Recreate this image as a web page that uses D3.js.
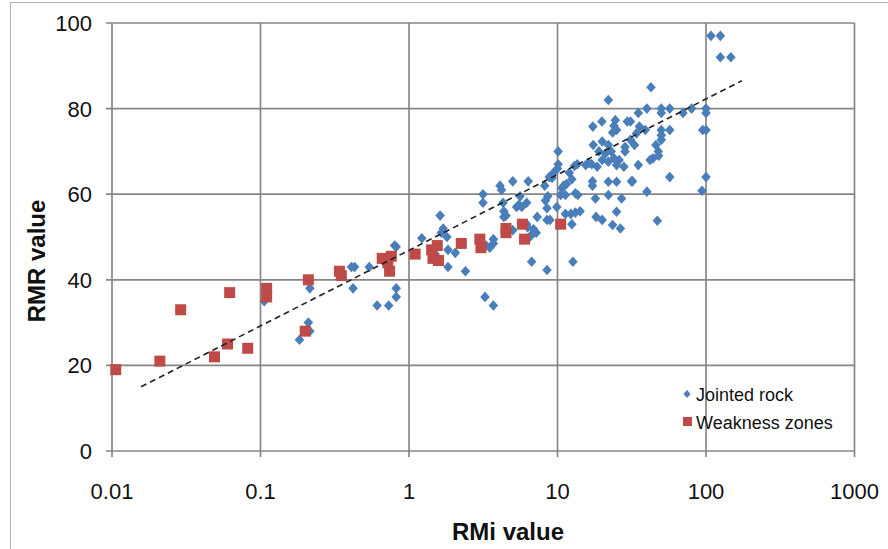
<!DOCTYPE html>
<html>
<head>
<meta charset="utf-8">
<script src="https://d3js.org/d3.v7.min.js"></script>
<style>
  body { margin: 0; background: #fff; }
  svg { display: block; font-family: "Liberation Sans", Arial, sans-serif; }
</style>
</head>
<body>
<svg width="888" height="549"></svg>
<script>
// Jointed rock (RMi, RMR)
var jointedRMi = [0.106, 0.215, 0.21, 0.215, 0.183,
  0.41, 0.43, 0.42, 0.54, 0.61, 0.73, 0.82, 0.82, 0.82, 0.8,
  1.22, 1.62, 1.65, 1.8, 1.83, 2.05, 1.83, 2.4, 1.5, 1.7,
  3.15, 3.15, 3.25, 3.7, 3.5, 3.7, 3.7, 3.3, 4.1, 4.2, 4.3, 4.35, 4.35, 5.0, 5.0, 5.3, 5.6, 5.75, 6.2, 6.35,
  6.2, 6.5, 6.7, 6.9, 7.2, 6.3, 6.7, 7.3, 8.5, 8.9, 8.3, 8.5, 8.6, 9.2, 9.4, 8.5, 8.2, 8.8, 4.5, 5.5,
  10.1, 10.1, 10, 10.5, 11.3, 10.7, 11.5, 12, 12.5, 13, 13.6, 11.3, 12.3, 13.2, 14.2, 12.5, 12.7, 13.7, 13.2, 15.5, 9.9, 11,
  17, 16.3, 17.4, 17.3, 19.9, 20, 22, 23, 24, 22, 26, 28, 25, 21, 18.5, 22, 24.5, 24, 23.5, 25, 29.5, 28.5, 28.5,
  17.2, 17.2, 22, 25, 22, 18, 27, 18.2, 20, 23.5, 25, 26.5, 31.5, 31, 33, 35.6, 20, 19,
  35, 31, 40, 42.6, 50, 50, 57, 70, 80, 100, 100, 95, 100, 34, 39, 50, 50, 57, 50, 47.7, 44, 42, 35, 32, 40, 57,
  100, 94, 47, 108, 125, 125, 147, 46, 48];
var jointedRMR = [35, 38, 30, 28, 26,
  43, 43, 38, 43, 34, 34, 38, 36, 47.7, 48,
  49.7, 55, 51, 50, 47, 46.3, 43, 42, 46, 52,
  60, 58, 36, 34, 47.5, 49.5, 48.5, 48, 62, 61, 58, 56, 54.7, 63, 51.6, 57, 59.5, 57, 58, 63,
  53, 50, 50.5, 51.8, 51, 52.3, 44.2, 54.7, 54, 54, 58.5, 56.7, 59.5, 63.8, 65, 42.3, 62, 64, 55, 57.5,
  70, 67, 66, 59.8, 59.8, 61.4, 62.4, 65, 63.5, 66.6, 67, 55.4, 55.4, 55.7, 56, 53, 44.2, 59.8, 60.2, 66.8, 57, 62,
  67, 67.3, 71.5, 75.8, 77, 72.3, 71.5, 70, 68.4, 67.6, 68, 66.4, 66.8, 69.5, 66.4, 82, 77.3, 76, 74.4, 75, 77, 70, 71,
  63, 62, 62.9, 62.9, 59.8, 59, 59, 54.7, 54, 52.8, 55.9, 52, 63, 72.7, 71.5, 75.8, 68, 70,
  79, 77, 80, 85, 80, 79, 80, 79, 80, 80, 79, 75, 75, 74.2, 75, 75, 73.8, 75, 72.7, 70, 68.4, 68, 66.8, 63, 60.6, 64,
  64, 60.8, 53.8, 97, 97, 92, 92, 71.5, 69];

// Weakness zones (RMi, RMR)
var weakRMi = [0.0106, 0.021, 0.029, 0.049, 0.06, 0.062, 0.082, 0.11, 0.11, 0.2, 0.21, 0.34, 0.35,
  0.66, 0.72, 0.76, 0.74, 1.1, 1.42, 1.55, 1.45, 1.58, 2.25, 3.0, 3.05, 4.5, 4.5, 5.8, 6.0, 10.5];
var weakRMR = [19, 21, 33, 22, 25, 37, 24, 38, 36, 28, 40, 42, 41,
  45, 44, 45.5, 42, 46, 47, 48, 45, 44.5, 48.5, 49.5, 47.5, 52, 51, 53, 49.5, 53];

// log trend line end points
var trendRMi = [0.0157, 174];
var trendRMR = [15, 86.5];

var xTicks = [0.01, 0.1, 1, 10, 100, 1000];
var xTickLabels = ["0.01", "0.1", "1", "10", "100", "1000"];
var yTicks = [0, 20, 40, 60, 80, 100];

var svg = d3.select("svg"),
    width = +svg.attr("width"),
    height = +svg.attr("height");

var x = d3.scaleLog().domain([0.01, 1000]).range([112, 854.5]),
    y = d3.scaleLinear().domain([0, 100]).range([451, 23]);

var gridColor = "#868686";

// outer chart frame
svg.append("rect")
    .attr("x", 10.5)
    .attr("y", 2.5)
    .attr("width", width)
    .attr("height", height)
    .attr("fill", "none")
    .attr("stroke", "#b0b0b0");

// gridlines
var grid = svg.append("g").attr("class", "grid");
grid.selectAll("line.h")
    .data(yTicks)
    .enter().append("line")
      .attr("x1", x(0.01) - 6)
      .attr("x2", x(1000))
      .attr("y1", function(d) { return y(d); })
      .attr("y2", function(d) { return y(d); })
      .attr("stroke", gridColor)
      .attr("stroke-width", 1.7);

grid.selectAll("line.v")
    .data(xTicks)
    .enter().append("line")
      .attr("x1", function(d) { return x(d); })
      .attr("x2", function(d) { return x(d); })
      .attr("y1", y(100))
      .attr("y2", y(0) + 6)
      .attr("stroke", gridColor)
      .attr("stroke-width", 1.7);

// tick labels
svg.append("g")
  .selectAll("text")
  .data(yTicks)
  .enter().append("text")
    .attr("x", 92)
    .attr("y", function(d) { return y(d) + 8; })
    .attr("text-anchor", "end")
    .attr("font-size", 22)
    .attr("fill", "#111")
    .text(function(d) { return d; });

svg.append("g")
  .selectAll("text")
  .data(xTicks)
  .enter().append("text")
    .attr("x", function(d) { return x(d); })
    .attr("y", 499)
    .attr("text-anchor", "middle")
    .attr("font-size", 22)
    .attr("fill", "#111")
    .text(function(d, i) { return xTickLabels[i]; });

// axis titles
svg.append("text")
    .attr("x", 508)
    .attr("y", 540)
    .attr("text-anchor", "middle")
    .attr("font-size", 24)
    .attr("font-weight", "bold")
    .attr("fill", "#111")
    .text("RMi value");

svg.append("text")
    .attr("transform", "translate(45,261) rotate(-90)")
    .attr("text-anchor", "middle")
    .attr("font-size", 24)
    .attr("font-weight", "bold")
    .attr("fill", "#111")
    .text("RMR value");

// points
var jointed = jointedRMi.map(function(v, i) { return {x: v, y: jointedRMR[i]}; });
var weak = weakRMi.map(function(v, i) { return {x: v, y: weakRMR[i]}; });

function diamond(s) {
  return "M0," + (-s) + "L" + (s * 0.9) + ",0L0," + s + "L" + (-s * 0.9) + ",0Z";
}

svg.append("g")
  .selectAll("path")
  .data(jointed)
  .enter().append("path")
    .attr("d", diamond(5.3))
    .attr("transform", function(d) { return "translate(" + x(d.x) + "," + y(d.y) + ")"; })
    .attr("fill", "#4a7ebb");

svg.append("g")
  .selectAll("rect")
  .data(weak)
  .enter().append("rect")
    .attr("x", function(d) { return x(d.x) - 5.5; })
    .attr("y", function(d) { return y(d.y) - 5.5; })
    .attr("width", 11)
    .attr("height", 11)
    .attr("fill", "#be4b48");

// trend line
var trend = trendRMi.map(function(v, i) { return {x: v, y: trendRMR[i]}; });
svg.append("path")
    .datum(trend)
    .attr("d", d3.line()
      .x(function(d) { return x(d.x); })
      .y(function(d) { return y(d.y); }))
    .attr("fill", "none")
    .attr("stroke", "#222")
    .attr("stroke-width", 1.6)
    .attr("stroke-dasharray", "6,4");

// legend
var legend = svg.append("g").attr("font-size", 18).attr("fill", "#111");
legend.append("path")
    .attr("d", diamond(4))
    .attr("transform", "translate(687,394)")
    .attr("fill", "#4a7ebb");
legend.append("text")
    .attr("x", 696)
    .attr("y", 401)
    .text("Jointed rock");
legend.append("rect")
    .attr("x", 683)
    .attr("y", 417)
    .attr("width", 9)
    .attr("height", 9)
    .attr("fill", "#be4b48");
legend.append("text")
    .attr("x", 696)
    .attr("y", 429)
    .text("Weakness zones");
</script>
</body>
</html>
